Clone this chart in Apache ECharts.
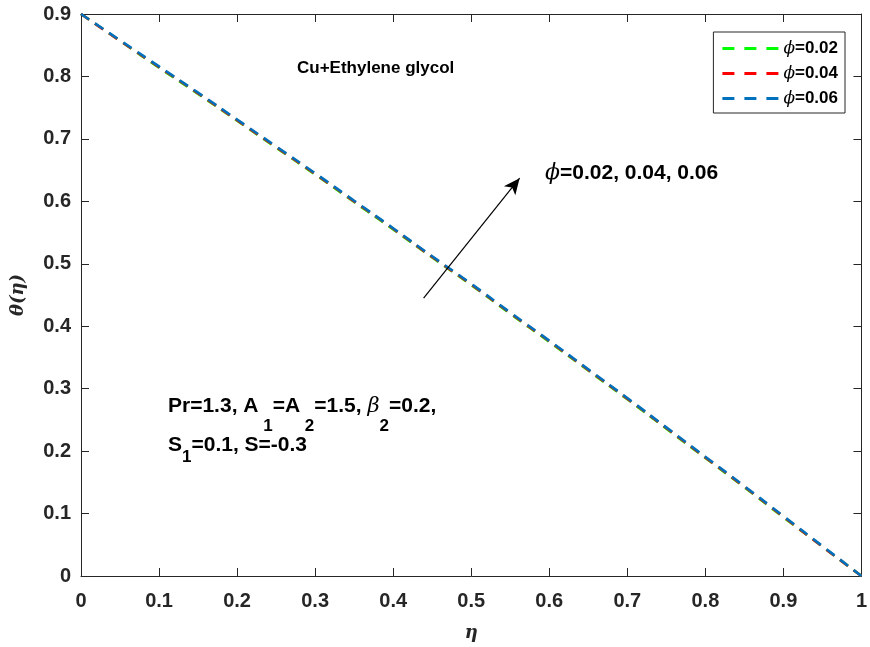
<!DOCTYPE html>
<html>
<head>
<meta charset="utf-8">
<script src="https://cdn.jsdelivr.net/npm/echarts@6/dist/echarts.min.js"></script>
<style>html,body{margin:0;padding:0;background:#fff}#c{width:870px;height:647px}</style>
</head>
<body>
<div id="c"></div>
<script>
var eta = [0, 0.05, 0.1, 0.15, 0.2, 0.25, 0.3, 0.35, 0.4, 0.45, 0.5, 0.55, 0.6, 0.65, 0.7, 0.75, 0.8, 0.85, 0.9, 0.95, 1];
var theta002 = [0.9, 0.857, 0.814, 0.772, 0.729, 0.686, 0.643, 0.599, 0.555, 0.510, 0.466, 0.420, 0.375, 0.329, 0.283, 0.236, 0.189, 0.142, 0.094, 0.047, 0];
var theta004 = [0.9, 0.857, 0.815, 0.773, 0.730, 0.687, 0.644, 0.600, 0.556, 0.511, 0.467, 0.421, 0.376, 0.330, 0.284, 0.237, 0.190, 0.143, 0.095, 0.047, 0];
var theta006 = [0.9, 0.858, 0.816, 0.774, 0.731, 0.688, 0.645, 0.601, 0.557, 0.512, 0.468, 0.422, 0.377, 0.331, 0.285, 0.238, 0.191, 0.144, 0.096, 0.048, 0];
var seriesNames = ['\u03d5=0.02', '\u03d5=0.04', '\u03d5=0.06'];
var seriesColors = ['#00ff00', '#ff0000', '#0072bd'];
var xTicks = [0, 0.1, 0.2, 0.3, 0.4, 0.5, 0.6, 0.7, 0.8, 0.9, 1];
var yTicks = [0, 0.1, 0.2, 0.3, 0.4, 0.5, 0.6, 0.7, 0.8, 0.9];

function pairs(xs, ys){ return xs.map(function(x,i){ return [x, ys[i]]; }); }
var allY = [theta002, theta004, theta006];

var FONT = 'Liberation Sans, Arial, sans-serif';
var SERIF = 'DejaVu Serif, serif';
var axisCol = '#262626';
var chart = echarts.init(document.getElementById('c'));

function fmt(v){ return (Math.round(v*10)/10).toString(); }

var series = allY.map(function(ys, k){
  return {
    name: seriesNames[k], type: 'line', data: pairs(eta, ys),
    showSymbol: false, symbol: 'none', smooth: true,
    lineStyle: { color: seriesColors[k], width: 2.6, type: [10, 7] },
    itemStyle: { color: seriesColors[k] },
    z: 2 + k, animation: false
  };
});
series.push({
  type: 'line', data: [], silent: true,
  markLine: {
    silent: true, animation: false,
    symbol: ['none', 'arrow'], symbolSize: [11, 16],
    label: { show: false },
    lineStyle: { color: '#000', width: 1.2, type: 'solid' },
    data: [[{ coord: [0.439, 0.445] }, { coord: [0.562, 0.637] }]]
  }
});

var axisCommon = {
  min: 0, interval: 0.1,
  axisLine: { show: true, onZero: false, lineStyle: { color: axisCol, width: 1 } },
  axisTick: { show: true, inside: true, length: 8, lineStyle: { color: axisCol } },
  splitLine: { show: false }
};

var dashIcon = 'path://M0,0h12v3h-12z M22,0h12v3h-12z M44,0h12v3h-12z';
var subStyle = function(pad){
  return { fontFamily: FONT, fontWeight: 'bold', fontSize: 17, fill: '#000', padding: [pad, 0, 0, 0] };
};

chart.setOption({
  animation: false,
  grid: { left: 81, top: 14, right: 8, bottom: 71, containLabel: false },
  legend: {
    data: seriesNames.map(function(n){ return { name: n, icon: dashIcon }; }),
    right: 25, top: 32, orient: 'vertical',
    itemWidth: 56, itemHeight: 3, itemGap: 0,
    padding: [4, 7, 2, 9],
    borderColor: '#262626', borderWidth: 1, backgroundColor: '#fff',
    formatter: function(n){ return '{i|\u03d5}' + n.slice(1); },
    textStyle: {
      fontFamily: FONT, fontWeight: 'bold', fontSize: 17, color: '#000', lineHeight: 25,
      rich: { i: { fontFamily: SERIF, fontStyle: 'italic', fontSize: 17, fontWeight: 'normal', lineHeight: 25 } }
    }
  },
  xAxis: [
    Object.assign({}, axisCommon, {
      type: 'value', max: 1, position: 'bottom',
      name: '\u03b7', nameLocation: 'middle', nameGap: 48,
      nameTextStyle: { fontFamily: SERIF, fontStyle: 'italic', fontWeight: 'bold', fontSize: 18, color: '#262626' },
      axisLabel: { fontFamily: FONT, fontWeight: 'bold', fontSize: 20, color: '#262626', margin: 15, formatter: fmt }
    }),
    Object.assign({}, axisCommon, {
      type: 'value', max: 1, position: 'top', axisLabel: { show: false }
    })
  ],
  yAxis: [
    Object.assign({}, axisCommon, {
      type: 'value', max: 0.9, position: 'left',
      name: '\u03b8(\u03b7)', nameLocation: 'middle', nameGap: 54, nameRotate: 90,
      nameTextStyle: { fontFamily: SERIF, fontStyle: 'italic', fontWeight: 'bold', fontSize: 18, color: '#262626' },
      axisLabel: { fontFamily: FONT, fontWeight: 'bold', fontSize: 20, color: '#262626', margin: 10, formatter: fmt }
    }),
    Object.assign({}, axisCommon, {
      type: 'value', max: 0.9, position: 'right', axisLabel: { show: false }
    })
  ],
  graphic: [
    { type: 'text', left: 297, top: 60, style: { text: 'Cu+Ethylene glycol', font: 'bold 17px ' + FONT, fill: '#000' } },
    { type: 'text', left: 545, top: 162, style: {
        text: '{i|\u03d5}=0.02, 0.04, 0.06',
        font: 'bold 21px ' + FONT, fill: '#000',
        rich: { i: { font: 'italic 22px ' + SERIF, fill: '#000' } }
    } },
    { type: 'text', left: 168, top: 396, style: {
        text: 'Pr=1.3, A{s| 1}=A{s| 2}=1.5, {i|\u03b2}{s|2}=0.2,',
        font: 'bold 21px ' + FONT, fill: '#000',
        rich: {
          s: subStyle(40),
          i: { font: 'italic 21px ' + SERIF, fill: '#000' }
        }
    } },
    { type: 'text', left: 168, top: 435, style: {
        text: 'S{s|1}=0.1, S=-0.3',
        font: 'bold 21px ' + FONT, fill: '#000',
        rich: { s: subStyle(24) }
    } }
  ],
  series: series
});
</script>
</body>
</html>
